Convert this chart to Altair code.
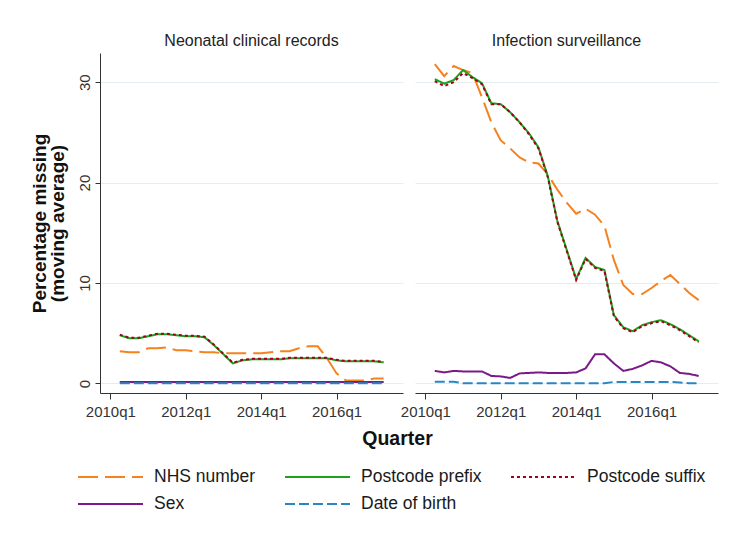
import altair as alt
import pandas as pd

FONT = "Liberation Sans"

quarters = ["2010q2", "2010q3", "2010q4", "2011q1", "2011q2", "2011q3", "2011q4",
            "2012q1", "2012q2", "2012q3", "2012q4", "2013q1", "2013q2", "2013q3",
            "2013q4", "2014q1", "2014q2", "2014q3", "2014q4", "2015q1", "2015q2",
            "2015q3", "2015q4", "2016q1", "2016q2", "2016q3", "2016q4", "2017q1",
            "2017q2"]

series_names = ["NHS number", "Postcode prefix", "Postcode suffix", "Sex", "Date of birth"]
panels = ["Neonatal clinical records", "Infection surveillance"]

tick_values = [0, 8, 16, 24]
tick_labels = ["2010q1", "2012q1", "2014q1", "2016q1"]
y_ticks = [0, 10, 20, 30]

# Neonatal clinical records
nhs_neo = [3.2, 3.1, 3.1, 3.5, 3.5, 3.6, 3.3, 3.3, 3.2, 3.1, 3.1, 3.0, 3.0, 3.0, 3.0,
           3.0, 3.1, 3.2, 3.2, 3.5, 3.7, 3.7, 2.5, 1.0, 0.3, 0.3, 0.3, 0.5, 0.5]
prefix_neo = [4.8, 4.5, 4.5, 4.7, 4.9, 4.9, 4.8, 4.7, 4.7, 4.6, 3.8, 2.9, 2.0, 2.3, 2.4,
              2.4, 2.4, 2.4, 2.5, 2.5, 2.5, 2.5, 2.5, 2.3, 2.2, 2.2, 2.2, 2.2, 2.1]
suffix_neo = [4.85, 4.55, 4.55, 4.75, 4.95, 4.95, 4.85, 4.75, 4.75, 4.65, 3.85, 2.95, 2.05,
              2.35, 2.45, 2.45, 2.45, 2.45, 2.55, 2.55, 2.55, 2.55, 2.55, 2.35, 2.25, 2.25,
              2.25, 2.25, 2.15]
sex_neo = [0.15] * 29
dob_neo = [0.02] * 29

# Infection surveillance
nhs_inf = [31.8, 30.6, 31.6, 31.2, 30.9, 28.5, 26.0, 24.2, 23.4, 22.5, 22.0, 21.9, 20.8,
           19.3, 18.0, 16.9, 17.4, 16.8, 15.7, 12.3, 9.8, 8.9, 8.9, 9.5, 10.2, 10.8, 9.9,
           9.0, 8.3]
prefix_inf = [30.3, 29.85, 30.2, 31.2, 30.5, 29.9, 27.9, 27.8, 27.0, 26.0, 24.9, 23.5, 20.6,
              16.2, 13.3, 10.4, 12.5, 11.6, 11.3, 6.8, 5.6, 5.2, 5.8, 6.1, 6.3, 5.9, 5.4,
              4.8, 4.2]
suffix_inf = [30.1, 29.6, 30.0, 30.9, 30.4, 29.8, 27.8, 27.8, 27.0, 26.0, 24.8, 23.4, 20.5,
              16.1, 13.2, 10.3, 12.4, 11.5, 11.2, 6.7, 5.5, 5.1, 5.7, 6.0, 6.2, 5.8, 5.3,
              4.7, 4.1]
sex_inf = [1.25, 1.1, 1.25, 1.2, 1.2, 1.2, 0.75, 0.7, 0.55, 1.0, 1.05, 1.1, 1.05, 1.05,
           1.05, 1.1, 1.5, 2.9, 2.9, 2.0, 1.25, 1.45, 1.8, 2.25, 2.1, 1.7, 1.05, 0.95, 0.75]
dob_inf = [0.17, 0.17, 0.17, 0.02, 0.02, 0.02, 0.02, 0.02, 0.02, 0.02, 0.02, 0.02, 0.02,
           0.02, 0.02, 0.02, 0.02, 0.02, 0.02, 0.15, 0.15, 0.15, 0.15, 0.15, 0.15, 0.15,
           0.1, 0.02, 0.02]

colors = ["#f5821f", "#1ca21c", "#a3001f", "#7a1a88", "#2a86c2"]
dashes = [[20, 7], [1, 0], [3, 3], [1, 0], [10, 4]]

panel_data = {
    panels[0]: [nhs_neo, prefix_neo, suffix_neo, sex_neo, dob_neo],
    panels[1]: [nhs_inf, prefix_inf, suffix_inf, sex_inf, dob_inf],
}


def q_index(q):
    return (int(q[:4]) - 2010) * 4 + int(q[-1]) - 1


rows = []
for p in panels:
    for s, vals in zip(series_names, panel_data[p]):
        for q, v in zip(quarters, vals):
            rows.append({"panel": p, "series": s, "quarter": q, "qi": q_index(q), "value": v})
df = pd.DataFrame(rows)

label_expr = "[" + ",".join("'%s'" % t for t in tick_labels) + "][indexof([" + \
    ",".join(str(v) for v in tick_values) + "], datum.value)]"

legend = alt.Legend(
    title=None, orient="none", legendX=-23, legendY=415, columns=3, direction="horizontal",
    symbolType="stroke", symbolSize=4225, symbolStrokeWidth=2, clipHeight=18,
    labelFontSize=17.5, labelFont=FONT, labelColor="#1a1a1a", labelOffset=10,
    columnPadding=28, rowPadding=9, padding=0,
)

xscale = alt.Scale(domain=[-1.1, 31.05], nice=False, zero=False)
yscale = alt.Scale(domain=[-0.95, 32.9], nice=False, zero=False)


def make_panel(name, left):
    if left:
        yaxis = alt.Axis(values=y_ticks, title=["Percentage missing", "(moving average)"],
                         titleFontSize=19, titleFontWeight="bold", titleFont=FONT,
                         titleColor="#111", titlePadding=10, titleLineHeight=18,
                         labelAngle=270, labelAlign="center", labelBaseline="bottom",
                         labelFontSize=15, labelFont=FONT, labelColor="#333", labelPadding=3,
                         tickSize=5, tickColor="#333", domainColor="#333",
                         grid=True, gridColor="#e4edf0")
        xaxis = alt.Axis(values=tick_values, labelExpr=label_expr, title="Quarter",
                         titleFontSize=19.5, titleFontWeight="bold", titleFont=FONT,
                         titleColor="#111", titleX=297, titleY=36, titleAlign="center",
                         titleBaseline="top",
                         labelFontSize=15, labelFont=FONT, labelColor="#333", labelPadding=5,
                         labelAngle=0, labelFlush=False, labelOverlap=False,
                         tickSize=6, tickColor="#333", domainColor="#333", grid=False)
    else:
        yaxis = alt.Axis(values=y_ticks, title=None, labels=False, ticks=False, domain=False,
                         grid=True, gridColor="#e4edf0")
        xaxis = alt.Axis(values=tick_values, labelExpr=label_expr, title=None,
                         labelFontSize=15, labelFont=FONT, labelColor="#333", labelPadding=5,
                         labelAngle=0, labelFlush=False, labelOverlap=False,
                         tickSize=6, tickColor="#333", domainColor="#333", grid=False)
    return alt.Chart(df[df["panel"] == name]).mark_line(strokeWidth=2, strokeCap="butt").encode(
        x=alt.X("qi:Q", scale=xscale, axis=xaxis),
        y=alt.Y("value:Q", scale=yscale, axis=yaxis),
        color=alt.Color("series:N", scale=alt.Scale(domain=series_names, range=colors),
                        legend=legend),
        strokeDash=alt.StrokeDash("series:N", scale=alt.Scale(domain=series_names, range=dashes),
                                  legend=legend),
    ).properties(
        width=303, height=340,
        title=alt.TitleParams(name, fontSize=16, fontWeight="normal", font=FONT,
                              color="#222", offset=4, anchor="middle"),
    )


chart = alt.hconcat(make_panel(panels[0], True), make_panel(panels[1], False),
                    spacing=12, bounds="flush").properties(
    padding={"left": 22, "top": 25, "right": 5, "bottom": 5},
    background="white",
).configure_view(stroke=None)

chart.save("out.html", embed_options={"renderer": "svg", "actions": False})
